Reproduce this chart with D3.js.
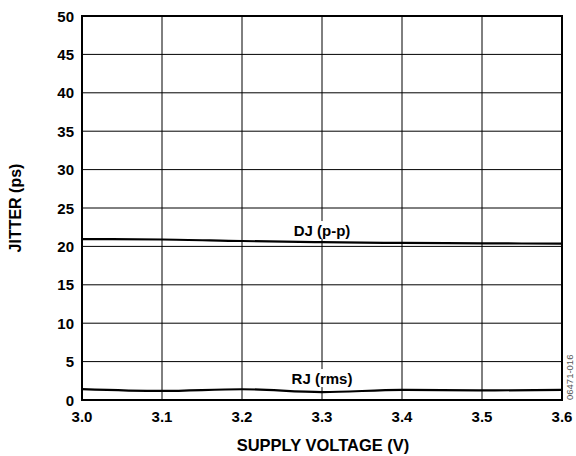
<!DOCTYPE html>
<html><head><meta charset="utf-8">
<script src="https://cdn.jsdelivr.net/npm/d3@7"></script>
<style>body{margin:0;background:#fff}svg{display:block}text{font-family:Arial,"Liberation Sans",sans-serif}</style>
</head><body><svg id="c" width="576" height="456"></svg>
<script>
const voltage = [3.0, 3.1, 3.2, 3.3, 3.4, 3.5, 3.6];
const djValues = [20.95, 20.9, 20.7, 20.55, 20.45, 20.4, 20.35];
const rjValues = [1.42, 1.18, 1.4, 1.02, 1.32, 1.25, 1.32];
const xTicks = [3.0, 3.1, 3.2, 3.3, 3.4, 3.5, 3.6];
const yTicks = [0, 5, 10, 15, 20, 25, 30, 35, 40, 45, 50];

const svg = d3.select("#c");
const L = 82, R = 562, T = 16, B = 400;
const x = d3.scaleLinear().domain([3.0, 3.6]).range([L, R]);
const y = d3.scaleLinear().domain([0, 50]).range([B, T]);

const g = svg.append("g");
g.selectAll(".vg").data(xTicks).enter().append("line")
  .attr("x1", d => x(d)).attr("x2", d => x(d)).attr("y1", T).attr("y2", B)
  .attr("stroke", "#000").attr("stroke-width", 1);
g.selectAll(".hg").data(yTicks).enter().append("line")
  .attr("x1", L).attr("x2", R).attr("y1", d => y(d)).attr("y2", d => y(d))
  .attr("stroke", "#000").attr("stroke-width", 1);

function label(txt, xv, yv) {
  const t = svg.append("text").attr("x", x(xv)).attr("y", y(yv))
    .attr("text-anchor", "middle").attr("font-size", 15).attr("font-weight", "bold").text(txt);
  const bb = t.node().getBBox();
  svg.insert("rect", "text").attr("x", bb.x - 2).attr("y", bb.y - 1).attr("width", bb.width + 4).attr("height", bb.height + 1).attr("fill", "#fff");
}

const line = d3.line().x((d, i) => x(voltage[i])).y(d => y(d)).curve(d3.curveMonotoneX);
label("DJ (p-p)", 3.3, 21.35);
label("RJ (rms)", 3.3, 2.08);

svg.append("path").datum(djValues).attr("d", line).attr("fill", "none").attr("stroke", "#000").attr("stroke-width", 2.2);
svg.append("path").datum(rjValues).attr("d", line).attr("fill", "none").attr("stroke", "#000").attr("stroke-width", 2.2);

svg.append("rect").attr("x", L).attr("y", T).attr("width", R - L).attr("height", B - T)
  .attr("fill", "none").attr("stroke", "#000").attr("stroke-width", 2);

svg.selectAll(".yt").data(yTicks).enter().append("text")
  .attr("x", L - 8).attr("y", d => y(d) + 5.5).attr("text-anchor", "end")
  .attr("font-size", 15).attr("font-weight", "bold").text(d => d);
svg.selectAll(".xt").data(xTicks).enter().append("text")
  .attr("x", d => x(d)).attr("y", 422).attr("text-anchor", "middle")
  .attr("font-size", 15).attr("font-weight", "bold").text(d => d.toFixed(1));

svg.append("text").attr("x", 323).attr("y", 451).attr("text-anchor", "middle")
  .attr("font-size", 16.5).attr("font-weight", "bold").text("SUPPLY VOLTAGE (V)");
svg.append("text").attr("transform", `translate(21,${(T + B) / 2}) rotate(-90)`).attr("text-anchor", "middle")
  .attr("font-size", 16).attr("font-weight", "bold").text("JITTER (ps)");
svg.append("text").attr("transform", `translate(573,400) rotate(-90)`).attr("text-anchor", "start")
  .attr("font-size", 9.5).attr("fill", "#555").text("06471-016");
</script></body></html>
